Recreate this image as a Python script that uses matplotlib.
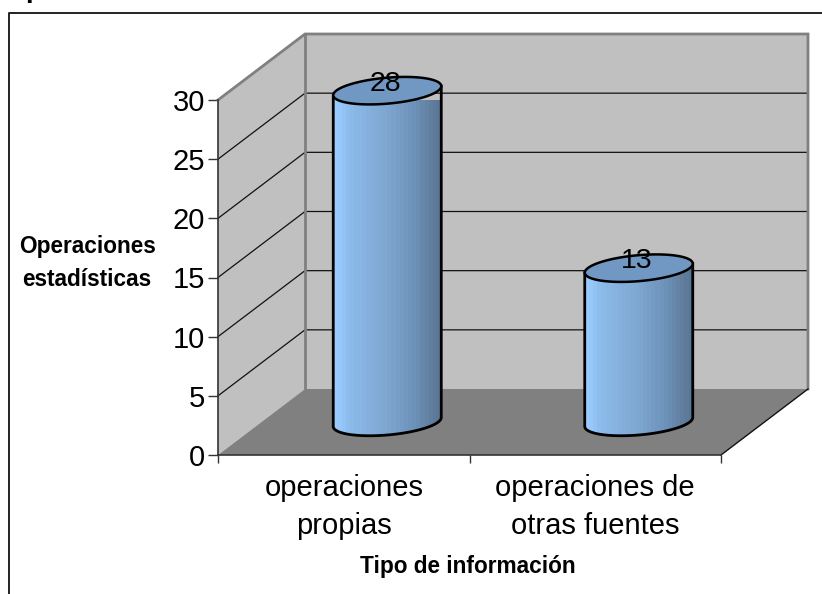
import numpy as np
import matplotlib
matplotlib.use("Agg")
import matplotlib.pyplot as plt
from matplotlib.patches import Polygon

plt.rcParams['font.family'] = ['Liberation Sans', 'DejaVu Sans']

# Data
categories = ["operaciones\npropias", "operaciones de\notras fuentes"]
values = [28, 13]
y_ticks = [0, 5, 10, 15, 20, 25, 30]
y_label = "Operaciones\nestadísticas"
x_label = "Tipo de información"

W, H = 822, 594
fig = plt.figure(figsize=(W / 100, H / 100), dpi=100)
# front plane of the 3d box, in pixels: x 218-721, y 100-455
ax = fig.add_axes([218 / W, 1 - 455 / H, 503 / W, 355 / H])
ax.set_xlim(0, len(categories))
ax.set_ylim(0, 30)
ax.patch.set_visible(False)

# depth of the box in data units
dx = 87 / 503 * len(categories)
dy = 66 / 355 * 30
top = y_ticks[-1]
n = len(categories)

# walls and floor
ax.add_patch(Polygon([(0, 0), (dx, dy), (dx, top + dy), (0, top)], fc="#c0c0c0", ec="none", clip_on=False, zorder=1))
ax.add_patch(Polygon([(dx, dy), (n + dx, dy), (n + dx, top + dy), (dx, top + dy)], fc="#c0c0c0", ec="none", clip_on=False, zorder=1))
ax.add_patch(Polygon([(0, 0), (dx, dy), (n + dx, dy), (n, 0)], fc="#808080", ec="none", clip_on=False, zorder=1))

# gridlines
for t in y_ticks[1:-1]:
    ax.plot([0, dx, n + dx], [t, t + dy, t + dy], color="#111111", lw=0.9, clip_on=False, zorder=2)

# wall edges
edge = dict(color="#808080", lw=2.0, clip_on=False, zorder=2.5, solid_joinstyle="miter")
ax.plot([0, dx, n + dx, n + dx], [top, top + dy, top + dy, dy], **edge)
ax.plot([dx, dx], [dy, top + dy], **edge)
ax.plot([n, n + dx], [0, dy], color="#111111", lw=1.0, clip_on=False, zorder=2.5)

# cylinders
band_stops = [0, 0.06, 0.13, 0.45, 0.72, 0.88, 1]
band_cols = ["#99ccff", "#94c6f8", "#8cbbea", "#7fa8d2", "#6e93bb", "#617f9f", "#577290"]
hw = 54 / 503 * n
tilt = 4.5 / 355 * 30
ry = 13 / 355 * 30
t = np.linspace(0, 2 * np.pi, 121)


def hex2rgb(c):
    return np.array(matplotlib.colors.to_rgb(c))


for i, v in enumerate(values):
    cx = i + 0.5 + dx / 2
    ell_x = cx + hw * np.cos(t)
    ell_y = tilt * np.cos(t) + ry * np.sin(t)
    base = dy / 2
    head = v + dy / 2
    # body outline: lower half of the bottom ellipse, then up the side and across the top
    low = t[(t >= np.pi) & (t <= 2 * np.pi)]
    body_x = cx + hw * np.cos(low)
    body_y = base + tilt * np.cos(low) + ry * np.sin(low)
    verts = np.column_stack([body_x, body_y])
    verts = np.vstack([verts, [cx + hw, head + tilt], [cx - hw, head - tilt]])
    body = Polygon(verts, fc="none", ec="black", lw=2.0, clip_on=False, zorder=4)
    ax.add_patch(body)
    # shading in bands
    fracs = np.linspace(0, 1, 27)
    cols = [[np.interp(f, band_stops, [hex2rgb(c)[k] for c in band_cols]) for k in range(3)] for f in fracs[:-1]]
    mesh_x = cx - hw + 2 * hw * fracs
    mesh = ax.pcolormesh(mesh_x, [base - 3, head + 3], np.array(cols)[np.newaxis, :, :], shading="flat", zorder=3, clip_on=True)
    mesh.set_clip_path(Polygon(verts, transform=ax.transData))
    # top ellipse
    ax.add_patch(Polygon(np.column_stack([ell_x, head + ell_y]), fc="#7098c2", ec="black", lw=1.8, clip_on=False, zorder=5))
    ax.annotate(str(v), (cx, head), xytext=(-1.5, 0), textcoords="offset points", ha="center", va="baseline",
                fontsize=20.5, color="black", zorder=6, annotation_clip=False)

# axes
for s in ("top", "right"):
    ax.spines[s].set_visible(False)
for s in ("left", "bottom"):
    ax.spines[s].set_color("#333333")
    ax.spines[s].set_linewidth(1.2)
    ax.spines[s].set_zorder(2.6)
ax.set_yticks(y_ticks)
ax.set_xticks(range(n + 1))
ax.set_xticklabels([])
ax.set_xticks(np.arange(n) + 0.5, minor=True)
ax.set_xticklabels(categories, minor=True, fontsize=21, linespacing=1.45)
ax.tick_params(axis="y", labelsize=21, length=7.5, width=1, color="#333333", pad=2)
ax.tick_params(axis="x", which="major", length=6, width=1, color="#333333")
ax.tick_params(axis="x", which="minor", length=0, pad=14)

# axis titles and outer frame, figure pixels
fig.text(87 / W, 1 - 263 / H, y_label, ha="center", va="center", fontsize=16.3, fontweight="bold", linespacing=1.55)
fig.text(468 / W, 1 - 567 / H, x_label, ha="center", va="center", fontsize=16.3, fontweight="bold")
fig.add_artist(plt.Line2D([8.5 / W, 8.5 / W, 1], [0, 1 - 12.5 / H, 1 - 12.5 / H], color="#222222", lw=1.4))
# cut off chart title: only the descender is left at the top edge
fig.text(25 / W, 1 + 3 / H, "p", ha="left", va="baseline", fontsize=20, fontweight="bold")

fig.savefig("out.png", dpi=100)
